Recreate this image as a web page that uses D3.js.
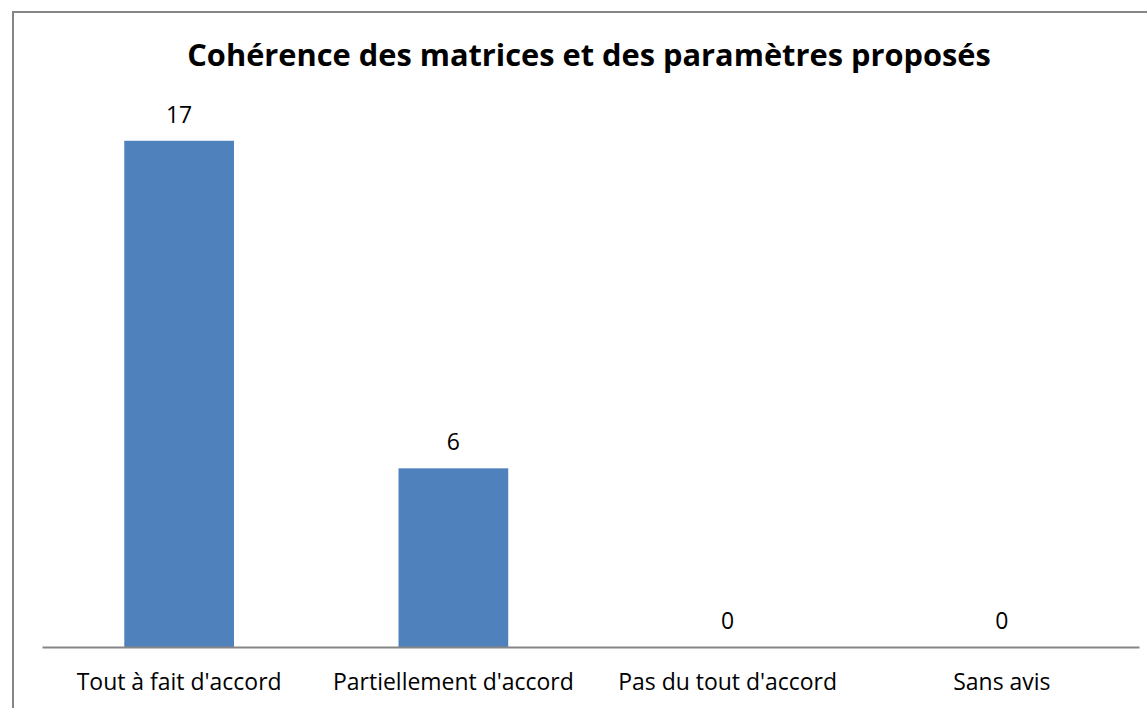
<!DOCTYPE html>
<html>
<head>
<meta charset="utf-8">
<script src="https://cdn.jsdelivr.net/npm/d3@7"></script>
<style>
  body { margin: 0; background: #fff; }
  svg { display: block; font-family: "Open Sans", sans-serif; }
</style>
</head>
<body>
<div id="chart"></div>
<script>
var title = "Cohérence des matrices et des paramètres proposés";
var categories = ["Tout à fait d'accord", "Partiellement d'accord", "Pas du tout d'accord", "Sans avis"];
var values = [17, 6, 0, 0];
var yMax = 18;

var W = 1147, H = 708;
var margin = {top: 111, right: 8, bottom: 61, left: 42};
var width = W - margin.left - margin.right;
var height = H - margin.top - margin.bottom;

var svg = d3.select("#chart").append("svg")
  .attr("width", W)
  .attr("height", H);

// chart frame (runs past the right and bottom edges)
svg.append("rect")
  .attr("x", 13).attr("y", 12)
  .attr("width", W).attr("height", H)
  .attr("fill", "none")
  .attr("stroke", "#868686")
  .attr("stroke-width", 2);

var t = svg.append("text")
  .attr("x", 589).attr("y", 66)
  .attr("text-anchor", "middle")
  .style("font-weight", "bold")
  .style("font-size", "30px")
  .attr("fill", "#000")
  .text(title);
// fit the title to its width in the picture
var tw = t.node().getComputedTextLength();
t.style("font-size", (30 * 804 / tw) + "px");

var g = svg.append("g")
  .attr("transform", "translate(" + margin.left + "," + margin.top + ")");

var x = d3.scaleBand()
  .domain(categories)
  .range([0, width])
  .paddingInner(0.6)
  .paddingOuter(0.3);

var y = d3.scaleLinear()
  .domain([0, yMax])
  .range([height, 0]);

g.selectAll(".bar")
  .data(values)
  .enter().append("rect")
  .attr("class", "bar")
  .attr("x", function(d, i) { return x(categories[i]); })
  .attr("width", x.bandwidth())
  .attr("y", function(d) { return y(d); })
  .attr("height", function(d) { return height - y(d); })
  .attr("fill", "#4F81BD");

var labels = g.selectAll(".val")
  .data(values)
  .enter().append("text")
  .attr("class", "val")
  .attr("x", function(d, i) { return x(categories[i]) + x.bandwidth() / 2; })
  .attr("y", function(d) { return y(d) - 18; })
  .attr("text-anchor", "middle")
  .style("font-size", "19px")
  .attr("fill", "#000")
  .text(function(d) { return d; });

var xAxis = g.append("g")
  .attr("transform", "translate(0," + height + ")")
  .call(d3.axisBottom(x).tickSize(0).tickPadding(0));
xAxis.select(".domain")
  .attr("stroke", "#868686")
  .attr("stroke-width", 2);
xAxis.selectAll(".tick text")
  .attr("dy", null)
  .attr("y", 43)
  .style("font-family", "\"Open Sans\", sans-serif")
  .style("font-size", "19px")
  .attr("fill", "#000");

// fit category label size to the first label width
var lw = xAxis.select(".tick text").node().getComputedTextLength();
var ls = 19 * 205 / lw;
xAxis.selectAll(".tick text").style("font-size", ls + "px");
labels.style("font-size", ls + "px");
</script>
</body>
</html>
